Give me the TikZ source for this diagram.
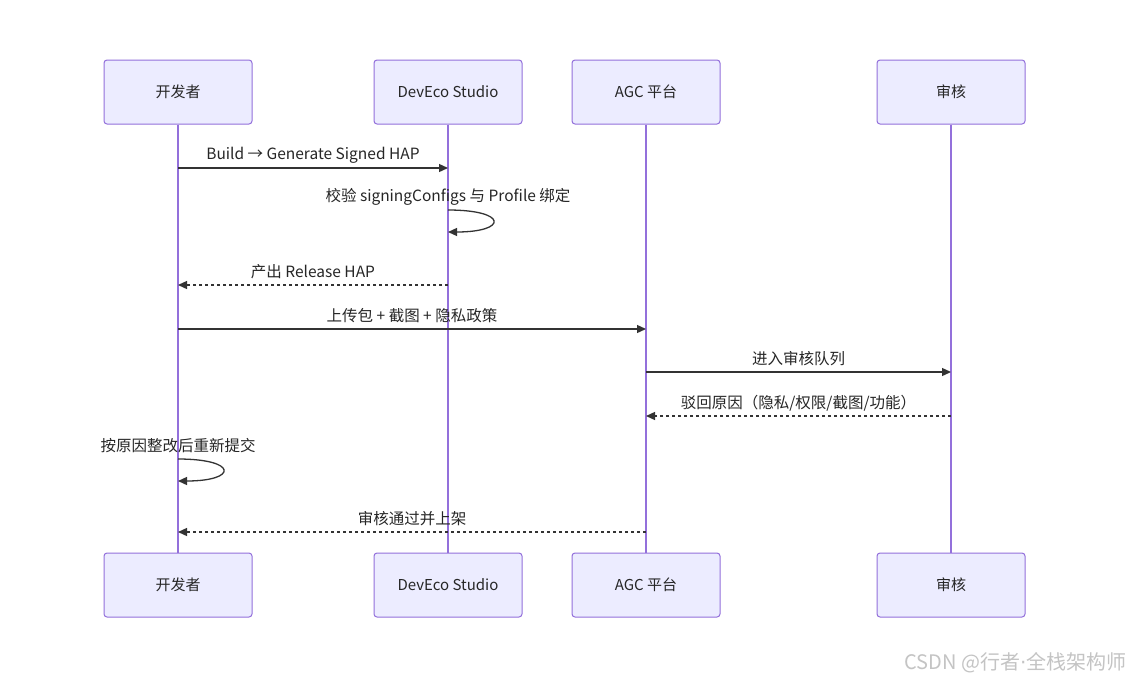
\documentclass[tikz,border=0pt]{standalone}
\usepackage{fontspec}
\setmainfont{Noto Sans CJK SC}
\newfontfamily\dotfont{DejaVu Sans}
\usepackage{tikz}
\usetikzlibrary{arrows.meta}
\definecolor{actorfill}{HTML}{ECECFF}
\definecolor{actorline}{HTML}{9370DB}
\definecolor{msgline}{HTML}{333333}
\definecolor{wmgray}{HTML}{C4C4C4}
\tikzstyle{actor} = [draw=actorline, fill=actorfill, line width=1pt,
    rectangle, rounded corners=3pt, minimum width=148pt, minimum height=64pt,
    font=\fontsize{15}{18}\selectfont, text=black!85]
\tikzstyle{lifeline} = [draw=actorline, line width=1.6pt]
\tikzstyle{msg} = [draw=msgline, line width=1.3pt,
    -{Triangle[length=9pt,width=8pt]}]
\tikzstyle{reply} = [msg, dash pattern=on 3pt off 3pt]
\tikzstyle{msglabel} = [font=\fontsize{15.5}{18}\selectfont, text=black!85, yshift=13pt]

\begin{document}
\begin{tikzpicture}[x=1pt,y=-1pt]
                \useasboundingbox[fill=white] (0,0) rectangle (1133,683);
                \node [actor] (devT) at (178,92) {开发者};
                \node [actor] (ideT) at (448,92) {DevEco Studio};
                \node [actor] (agcT) at (646,92) {AGC 平台};
                \node [actor] (revT) at (951,92) {审核};
                \node [actor] (devB) at (178,585) {开发者};
                \node [actor] (ideB) at (448,585) {DevEco Studio};
                \node [actor] (agcB) at (646,585) {AGC 平台};
                \node [actor] (revB) at (951,585) {审核};
                \draw [lifeline] (devT) -- (devB);
                \draw [lifeline] (ideT) -- (ideB);
                \draw [lifeline] (agcT) -- (agcB);
                \draw [lifeline] (revT) -- (revB);
                \coordinate (r1) at (0,168);
                \coordinate (r2a) at (0,210);
                \coordinate (r2b) at (0,232);
                \coordinate (r3) at (0,285);
                \coordinate (r4) at (0,329);
                \coordinate (r5) at (0,372);
                \coordinate (r6) at (0,416);
                \coordinate (r7a) at (0,459);
                \coordinate (r7b) at (0,481);
                \coordinate (r8) at (0,532);
                \draw [msg] (devT |- r1) -- (ideT |- r1)
                    node [msglabel, midway] {Build → Generate Signed HAP};
                \node [msglabel] (loop1) at (ideT |- r2a) {校验 signingConfigs 与 Profile 绑定};
                \draw [msg] (ideT |- r2a) .. controls +(60,0) and +(60,0) .. (ideT |- r2b);
                \draw [reply] (ideT |- r3) -- (devT |- r3)
                    node [msglabel, midway] {产出 Release HAP};
                \draw [msg] (devT |- r4) -- (agcT |- r4)
                    node [msglabel, midway] {上传包 + 截图 + 隐私政策};
                \draw [msg] (agcT |- r5) -- (revT |- r5)
                    node [msglabel, midway] {进入审核队列};
                \draw [reply] (revT |- r6) -- (agcT |- r6)
                    node [msglabel, midway] {驳回原因（隐私/权限/截图/功能）};
                \node [msglabel] (loop2) at (devT |- r7a) {按原因整改后重新提交};
                \draw [msg] (devT |- r7a) .. controls +(60,0) and +(60,0) .. (devT |- r7b);
                \draw [reply] (agcT |- r8) -- (devT |- r8)
                    node [msglabel, midway] {审核通过并上架};
                \node [font=\fontsize{20}{24}\selectfont, text=wmgray, anchor=east] (mark) at (1130,663) {CSDN @行者{\dotfont ·}全栈架构师};
\end{tikzpicture}
\end{document}
